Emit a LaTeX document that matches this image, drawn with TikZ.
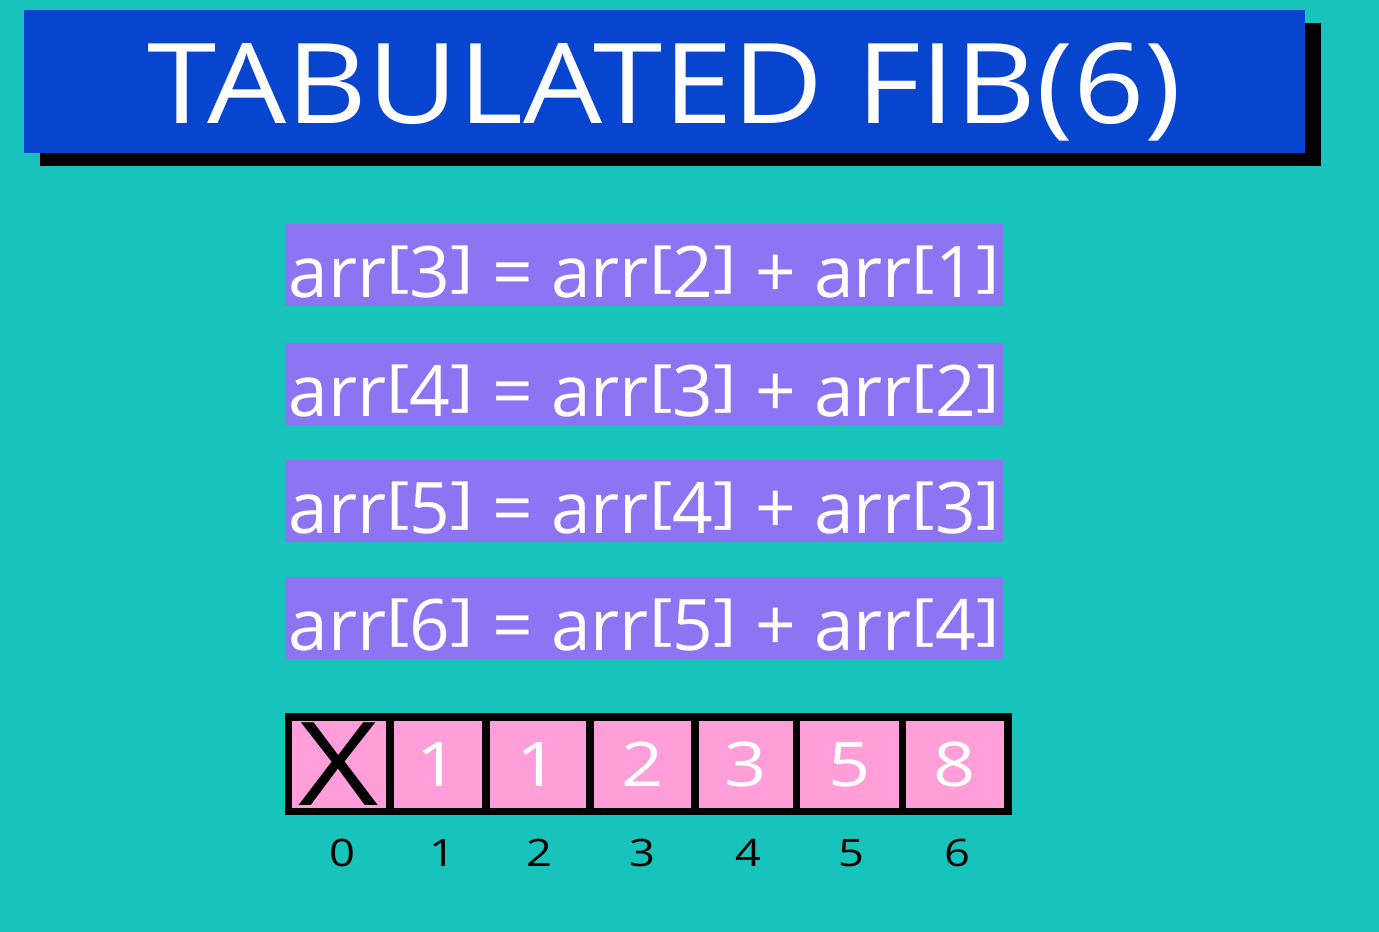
\documentclass[tikz,border=0pt]{standalone}
\usepackage{fontspec}
\setmainfont{Open Sans}
\newfontfamily\titlefont[FakeStretch=1.12]{Open Sans}
\newfontfamily\widefont[FakeStretch=1.2]{Open Sans}
\usepackage{graphicx}
\usepackage{xcolor}
\usepackage{tikz}
\usetikzlibrary{shadows}

\definecolor{bgteal}{RGB}{23,195,186}
\definecolor{titleblue}{RGB}{8,69,207}
\definecolor{barpurple}{RGB}{140,117,242}
\definecolor{cellpink}{RGB}{255,158,216}

% short square brackets for the recurrences
\newcommand{\sqb}[1]{\raisebox{0.173em}{\scalebox{1}[0.78]{#1}}}
\newcommand{\arr}[1]{arr\sqb{[}#1\sqb{]}}

\tikzset{
    titlebox/.style={fill=titleblue, text=white, inner sep=0pt,
        minimum width=25.62cm, minimum height=2.86cm,
        text height=1.7cm, text depth=0pt,
        font=\titlefont\fontsize{63.5}{70}\selectfont,
        drop shadow={shadow xshift=0.32cm, shadow yshift=-0.26cm, fill=black, opacity=1}},
    formula/.style={fill=barpurple, text=white, inner sep=0pt,
        minimum width=14.36cm, minimum height=1.64cm,
        text height=1.32cm, text depth=0pt,
        font=\fontsize{40.5}{46}\selectfont},
    cell/.style={fill=cellpink, text=white, inner sep=0pt,
        minimum height=1.74cm,
        font=\widefont\fontsize{35}{40}\selectfont},
    index/.style={font=\widefont\fontsize{21.5}{25}\selectfont}
}

\begin{document}
\begin{tikzpicture}[x=0.02cm, y=-0.02cm]
        % Background
        \fill[bgteal] (0,0) rectangle (1379,932);

        % Draw the title
        \node[titlebox] (title) at (664.5,81.5) {TABULATED FIB(6)};

        % Draw the recurrences
        \node[formula] (f3) at (644,265) {\arr{3} = \arr{2} + \arr{1}};
        \node[formula] (f4) at (644,384) {\arr{4} = \arr{3} + \arr{2}};
        \node[formula] (f5) at (644,501) {\arr{5} = \arr{4} + \arr{3}};
        \node[formula] (f6) at (644,618) {\arr{6} = \arr{5} + \arr{4}};

        % Draw the table
        \node[fill=black, inner sep=0pt, minimum width=14.54cm, minimum height=2.04cm] (frame) at (648.5,764) {};
        \node[cell, minimum width=1.88cm, text=black, font=\widefont\fontsize{66}{72}\selectfont] (c0) at (339,764.5) {X};
        \node[cell, minimum width=1.76cm] (c1) at (438,764.5) {1};
        \node[cell, minimum width=1.92cm] (c2) at (538,764.5) {1};
        \node[cell, minimum width=1.94cm] (c3) at (642.5,764.5) {2};
        \node[cell, minimum width=1.88cm] (c4) at (746,764.5) {3};
        \node[cell, minimum width=1.98cm] (c5) at (849.5,764.5) {5};
        \node[cell, minimum width=1.96cm] (c6) at (955,764.5) {8};

        % Draw the indices
        \node[index] (i0) at (342,853) {0};
        \node[index] (i1) at (442,853) {1};
        \node[index] (i2) at (539,853) {2};
        \node[index] (i3) at (642,853) {3};
        \node[index] (i4) at (748,853) {4};
        \node[index] (i5) at (851,853) {5};
        \node[index] (i6) at (957,853) {6};

    \end{tikzpicture}
\end{document}
